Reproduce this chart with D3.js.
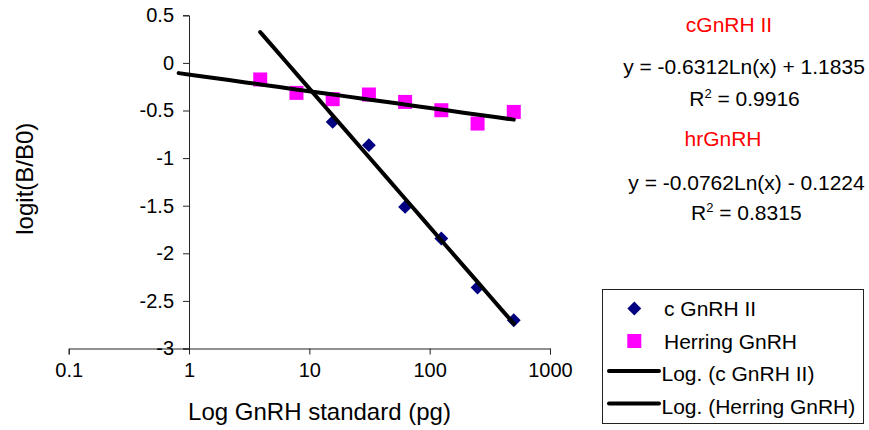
<!DOCTYPE html>
<html><head><meta charset="utf-8">
<script src="https://cdn.jsdelivr.net/npm/d3@7"></script>
<style>
html,body{margin:0;padding:0;background:#fff;}
svg{display:block;font-family:"Liberation Sans",Arial,sans-serif;}
</style></head>
<body>
<svg id="chart" width="869" height="430"></svg>
<script>
// ---- data ----
const herringX = [3.90625, 7.8125, 15.625, 31.25, 62.5, 125, 250, 500];
const herringY = [-0.174, -0.315, -0.381, -0.332, -0.410, -0.497, -0.637, -0.515];
const cGnRHX = [15.625, 31.25, 62.5, 125, 250, 500];
const cGnRHY = [-0.620, -0.864, -1.513, -1.845, -2.359, -2.703];
const xTicks = [0.1, 1, 10, 100, 1000];
const yTicks = [0.5, 0, -0.5, -1, -1.5, -2, -2.5, -3];
const cFit = {a: -0.6312, b: 1.1835, from: 3.90625, to: 500};
const hFit = {a: -0.0762, b: -0.1224, from: 0.82, to: 500};
const legendLabels = ["c GnRH II", "Herring GnRH", "Log. (c GnRH II)", "Log. (Herring GnRH)"];

const svg = d3.select("#chart");
const x = d3.scaleLog().domain([0.1, 1000]).range([68.7, 550]);
const y = d3.scaleLinear().domain([-3, 0.5]).range([348.5, 15.3]);
const axisColor = "#222";

// axes
const xAxis = d3.axisBottom(x).tickValues(xTicks).tickFormat(d => String(d)).tickSizeOuter(0).tickSize(6).tickPadding(8);
const gx = svg.append("g").attr("transform", `translate(0,${y(-3)})`).call(xAxis);
gx.select(".domain").attr("stroke", axisColor);
gx.selectAll(".tick line").attr("stroke", axisColor);
gx.selectAll("text").attr("font-size", 20).attr("fill", "#000").attr("font-family", "Liberation Sans, Arial, sans-serif");

const yAxis = d3.axisLeft(y).tickValues(yTicks).tickFormat(d => String(d)).tickSizeOuter(0).tickSize(6).tickPadding(9);
const gy = svg.append("g").attr("transform", `translate(${x(1)},0)`).call(yAxis);
gy.select(".domain").attr("stroke", axisColor);
gy.selectAll(".tick line").attr("stroke", axisColor);
gy.selectAll("text").attr("font-size", 20).attr("fill", "#000").attr("font-family", "Liberation Sans, Arial, sans-serif");

// axis titles
svg.append("text").attr("x", (x(1) + x(1000)) / 2 - 50).attr("y", 420).attr("text-anchor", "middle")
  .attr("font-size", 24).text("Log GnRH standard (pg)");
svg.append("text").attr("transform", "translate(33,178.7) rotate(-90)").attr("text-anchor", "middle")
  .attr("font-size", 24).text("logit(B/B0)");

// markers
svg.append("g").selectAll("rect").data(herringX.map((v, i) => [v, herringY[i]])).join("rect")
  .attr("x", d => x(d[0]) - 7).attr("y", d => y(d[1]) - 7).attr("width", 14).attr("height", 14)
  .attr("fill", "#ff00ff");
svg.append("g").selectAll("path").data(cGnRHX.map((v, i) => [v, cGnRHY[i]])).join("path")
  .attr("d", d3.symbol().type(d3.symbolSquare).size(96))
  .attr("transform", d => `translate(${x(d[0])},${y(d[1])}) rotate(45)`)
  .attr("fill", "#000080");

// trend lines
function trend(f) {
  const pts = d3.range(0, 21).map(i => {
    const lx = Math.log(f.from) + (Math.log(f.to) - Math.log(f.from)) * i / 20;
    const xv = Math.exp(lx);
    return [xv, f.a * Math.log(xv) + f.b];
  });
  return d3.line().x(d => x(d[0])).y(d => y(d[1]))(pts);
}
svg.append("path").attr("d", trend(hFit)).attr("fill", "none").attr("stroke", "#000").attr("stroke-width", 4).attr("stroke-linecap", "round");
svg.append("path").attr("d", trend(cFit)).attr("fill", "none").attr("stroke", "#000").attr("stroke-width", 4).attr("stroke-linecap", "round");

// annotations
const ann = svg.append("g").attr("font-size", 21).attr("text-anchor", "middle");
ann.append("text").attr("x", 729).attr("y", 31.5).attr("fill", "#ff0000").text("cGnRH II");
ann.append("text").attr("x", 744).attr("y", 74).text("y = -0.6312Ln(x) + 1.1835");
const r1 = ann.append("text").attr("x", 744.5).attr("y", 106);
r1.append("tspan").text("R");
r1.append("tspan").attr("dy", -8).attr("font-size", 13).text("2");
r1.append("tspan").attr("dy", 8).text(" = 0.9916");
ann.append("text").attr("x", 723).attr("y", 146).attr("fill", "#ff0000").text("hrGnRH");
ann.append("text").attr("x", 746.5).attr("y", 190).text("y = -0.0762Ln(x) - 0.1224");
const r2 = ann.append("text").attr("x", 746.3).attr("y", 220);
r2.append("tspan").text("R");
r2.append("tspan").attr("dy", -8).attr("font-size", 13).text("2");
r2.append("tspan").attr("dy", 8).text(" = 0.8315");

// legend
const lg = svg.append("g");
lg.append("rect").attr("x", 602.5).attr("y", 289.5).attr("width", 261).attr("height", 134)
  .attr("fill", "#fff").attr("stroke", "#222").attr("stroke-width", 1);
const rows = [308.5, 341, 373.5, 406];
lg.append("path").attr("d", d3.symbol().type(d3.symbolSquare).size(96)).attr("transform", `translate(634.3,${rows[0]}) rotate(45)`).attr("fill", "#000080");
lg.append("rect").attr("x", 627.3).attr("y", rows[1] - 7).attr("width", 14).attr("height", 14).attr("fill", "#ff00ff");
lg.append("line").attr("x1", 609).attr("x2", 659).attr("y1", rows[2] - 2.5).attr("y2", rows[2] - 2.5).attr("stroke", "#000").attr("stroke-width", 4).attr("stroke-linecap", "round");
lg.append("line").attr("x1", 609).attr("x2", 659).attr("y1", rows[3] - 2.5).attr("y2", rows[3] - 2.5).attr("stroke", "#000").attr("stroke-width", 4).attr("stroke-linecap", "round");
lg.selectAll("text.lt").data(legendLabels).join("text").attr("class", "lt")
  .attr("x", (d, i) => i < 2 ? 664 : 661.5).attr("y", (d, i) => rows[i] + 7.5)
  .attr("font-size", 21).text(d => d);
</script>
</body></html>
